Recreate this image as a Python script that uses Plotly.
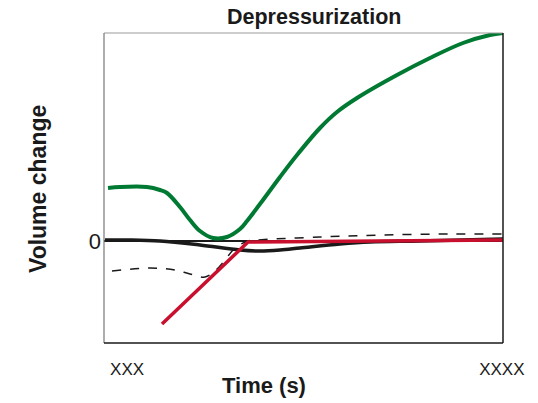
import plotly.graph_objects as go

# pixel-read data converted to arbitrary units
PX0, PXW = 104.0, 3.99   # x: (px - 104)/3.99
ZERO_PX = 241.0           # y: (241 - px)/10

green_px = [(108,188),(120,187),(147,187),(160,190),(167,193),(180,207),(190,220),(200,231),
            (213,238),(227,237),(240,229),(247,221),(263,200),(280,177),(297,155),(320,128),
            (337,112),(357,98),(397,75),(430,58),(463,43),(490,35),(503,33)]
black_px = [(105,240),(130,240),(160,241),(200,245),(240,250),(260,251),(280,250),(300,248),
            (340,244),(370,242),(420,241),(503,239)]
dash_px = [(112,271),(150,268),(175,270),(190,274),(205,277),(215,271),(225,260),(235,248),
           (248,241),(257,240),(320,237),(383,235),(450,234),(503,234)]
red_px = [(162,324),(248,242),(503,240)]

def cx(p): return [(a - PX0) / PXW for a, b in p]
def cy(p): return [(ZERO_PX - b) / 10.0 for a, b in p]

xtick_vals = [5.8, 99.7]
xtick_text = ["XXX", "XXXX"]

FONT = "Liberation Sans, Arial, sans-serif"

fig = go.Figure()
fig.add_trace(go.Scatter(x=cx(dash_px), y=cy(dash_px), mode="lines", line=dict(color="#1a1a1a", width=1.5, dash="dash", shape="spline")))
fig.add_trace(go.Scatter(x=cx(black_px), y=cy(black_px), mode="lines", line=dict(color="#1a1a1a", width=3.5, shape="spline")))
fig.add_trace(go.Scatter(x=cx(red_px), y=cy(red_px), mode="lines", line=dict(color="#C8102E", width=3.5)))
fig.add_trace(go.Scatter(x=cx(green_px), y=cy(green_px), mode="lines", line=dict(color="#007A33", width=4, shape="spline")))

fig.update_layout(
    width=538, height=403,
    margin=dict(l=104, r=35, t=33, b=60),
    plot_bgcolor="white", paper_bgcolor="white",
    showlegend=False,
    font=dict(family=FONT, color="#1a1a1a"),
    xaxis=dict(range=[0, 100], showgrid=False, zeroline=False, showline=False,
               tickvals=xtick_vals, ticktext=xtick_text, ticks="",
               tickfont=dict(size=17), ticklabelstandoff=14),
    yaxis=dict(range=[(ZERO_PX - 343) / 10, (ZERO_PX - 33) / 10], showgrid=False,
               zeroline=True, zerolinecolor="#1a1a1a", zerolinewidth=2,
               showline=False, tickvals=[0], ticktext=["0"], ticks="inside",
               ticklen=6, tickcolor="#1a1a1a", tickfont=dict(size=22), ticklabelstandoff=2),
    shapes=[
        dict(type="line", xref="paper", yref="paper", x0=0, x1=1, y0=1, y1=1, line=dict(color="#999999", width=1.2)),
        dict(type="line", xref="paper", yref="paper", x0=0, x1=0, y0=0, y1=1, line=dict(color="#777777", width=1.2)),
        dict(type="line", xref="paper", yref="paper", x0=1, x1=1, y0=0, y1=1, line=dict(color="#1a1a1a", width=1.5)),
        dict(type="line", xref="paper", yref="paper", x0=0, x1=1, y0=0, y1=0, line=dict(color="#1a1a1a", width=1.5)),
    ],
    annotations=[
        dict(text="<b>Depressurization</b>", xref="paper", yref="paper", x=(314 - 104) / 399, y=1,
             yshift=16, showarrow=False, font=dict(size=21.5), xanchor="center", yanchor="middle"),
        dict(text="<b>Time (s)</b>", xref="paper", yref="paper", x=(264 - 104) / 399, y=0,
             yshift=-42, showarrow=False, font=dict(size=22), xanchor="center", yanchor="middle"),
        dict(text="<b>Volume change</b>", xref="paper", yref="paper", x=0, xshift=-66,
             y=(343 - 189) / 310, textangle=-90, showarrow=False, font=dict(size=23),
             xanchor="center", yanchor="middle"),
    ],
)

fig.write_html("out.html")
